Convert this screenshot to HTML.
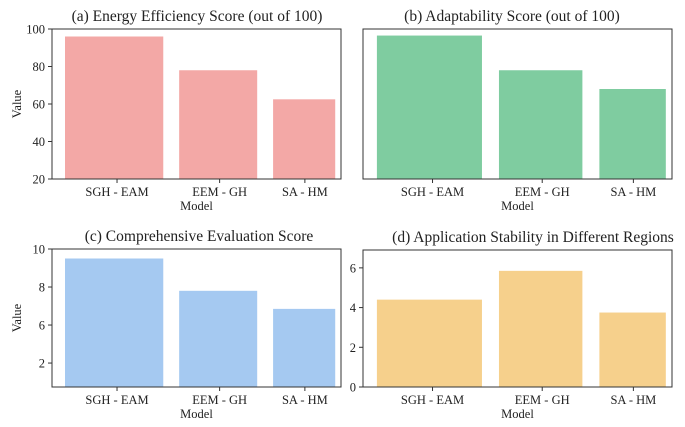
<!DOCTYPE html>
<html><head><meta charset="utf-8"><style>
body{margin:0;background:#fff}
svg{font-family:"Liberation Serif",serif;display:block}
</style></head><body>
<svg id="chart" width="685" height="427" xmlns="http://www.w3.org/2000/svg"></svg>
<script>
const categories = ["SGH - EAM","EEM - GH","SA - HM"];
const energyValues = [96, 78, 62.5];
const adaptValues = [96.5, 78, 68];
const compValues = [9.5, 7.8, 6.85];
const stabilityValues = [4.4, 5.85, 3.75];
const tickValuesA = [20,40,60,80,100];
const tickLabelsA = ["20","40","60","80","100"];
const tickValuesC = [4,6,8,10];
const tickLabelsC = ["2","6","8","10"];
const tickValuesD = [0,2,4,6];
const tickLabelsD = ["0","2","4","6"];

const NS="http://www.w3.org/2000/svg";
const svg=document.getElementById('chart');
function mk(tag,attrs,parent){const e=document.createElementNS(NS,tag);for(const k in attrs)e.setAttribute(k,attrs[k]);(parent||svg).appendChild(e);return e;}

// bar extents as fractions of axis width (styling, not data)
const barLeft=[0.045,0.44,0.765];
const barRight=[0.385,0.71,0.98];
const labelCenter=[0.225,0.58,0.875];

function panel(opt){
  const g=mk('g',{});
  
  
  const {x0,x1,y0,y1,ymin,ymax}=opt;
  const yS=v=>y1-(v-ymin)/(ymax-ymin)*(y1-y0);
  const xS=f=>x0+f*(x1-x0);
  opt.values.forEach((v,i)=>{
    const top=yS(v);
    const r=mk('rect',{x:xS(barLeft[i]),y:top,width:xS(barRight[i])-xS(barLeft[i]),height:y1-top,fill:opt.color},g);
    
    
  });
  const frame=mk('rect',{x:x0,y:y0,width:x1-x0,height:y1-y0,fill:'none',stroke:'#333','stroke-width':1},g);
  
  
  categories.forEach((c,i)=>{
    const cx=xS(labelCenter[i]);
    mk('line',{x1:cx,x2:cx,y1:y1,y2:y1+4,stroke:'#333'},g);
    const t=mk('text',{x:cx,y:y1+17,'text-anchor':'middle','font-size':12.5,fill:'#222'},g);
    t.textContent=c;
    
    
  });
  if(opt.ticks){
    opt.ticks.forEach((v,i)=>{
      const y=yS(v);
      mk('line',{x1:x0-4,x2:x0,y1:y,y2:y,stroke:'#333'},g);
      const t=mk('text',{x:x0-7,y:y+4.5,'text-anchor':'end','font-size':12.5,fill:'#222'},g);
      t.textContent=opt.tickLabels[i];
      
      
    });
  }
  if(opt.ylabel){
    const t=mk('text',{x:0,y:0,transform:`translate(21,${(y0+y1)/2}) rotate(-90)`,'text-anchor':'middle','font-size':12.5,fill:'#222'},g);
    t.textContent='Value';
    
    
  }
  const xl=mk('text',{x:(x0+x1)/2,y:y1+31,'text-anchor':'middle','font-size':12.5,fill:'#222'},g);
  xl.textContent='Model';
  
  
  const tt=mk('text',{x:opt.titleX,y:y0-8,'text-anchor':'middle','font-size':15.5,fill:'#222'},g);
  tt.textContent=opt.title;
  
  
}

panel({name:'panel-energy-efficiency',x0:52,x1:341,y0:29,y1:179,ymin:20,ymax:100,values:energyValues,color:'#f3a8a6',ticks:tickValuesA,tickLabels:tickLabelsA,ylabel:true,title:'(a) Energy Efficiency Score (out of 100)',titleX:197});
panel({name:'panel-adaptability',x0:363,x1:672,y0:29,y1:179,ymin:20,ymax:100,values:adaptValues,color:'#7fcca0',title:'(b) Adaptability Score (out of 100)',titleX:512});
panel({name:'panel-comprehensive',x0:52,x1:341,y0:249,y1:387,ymin:2.74,ymax:10,values:compValues,color:'#a5c9f1',ticks:tickValuesC,tickLabels:tickLabelsC,ylabel:true,title:'(c) Comprehensive Evaluation Score',titleX:199});
panel({name:'panel-application-stability',x0:363,x1:672,y0:250,y1:387,ymin:0,ymax:6.9,values:stabilityValues,color:'#f6d08c',ticks:tickValuesD,tickLabels:tickLabelsD,title:'(d) Application Stability in Different Regions',titleX:533});
</script>
</body></html>
